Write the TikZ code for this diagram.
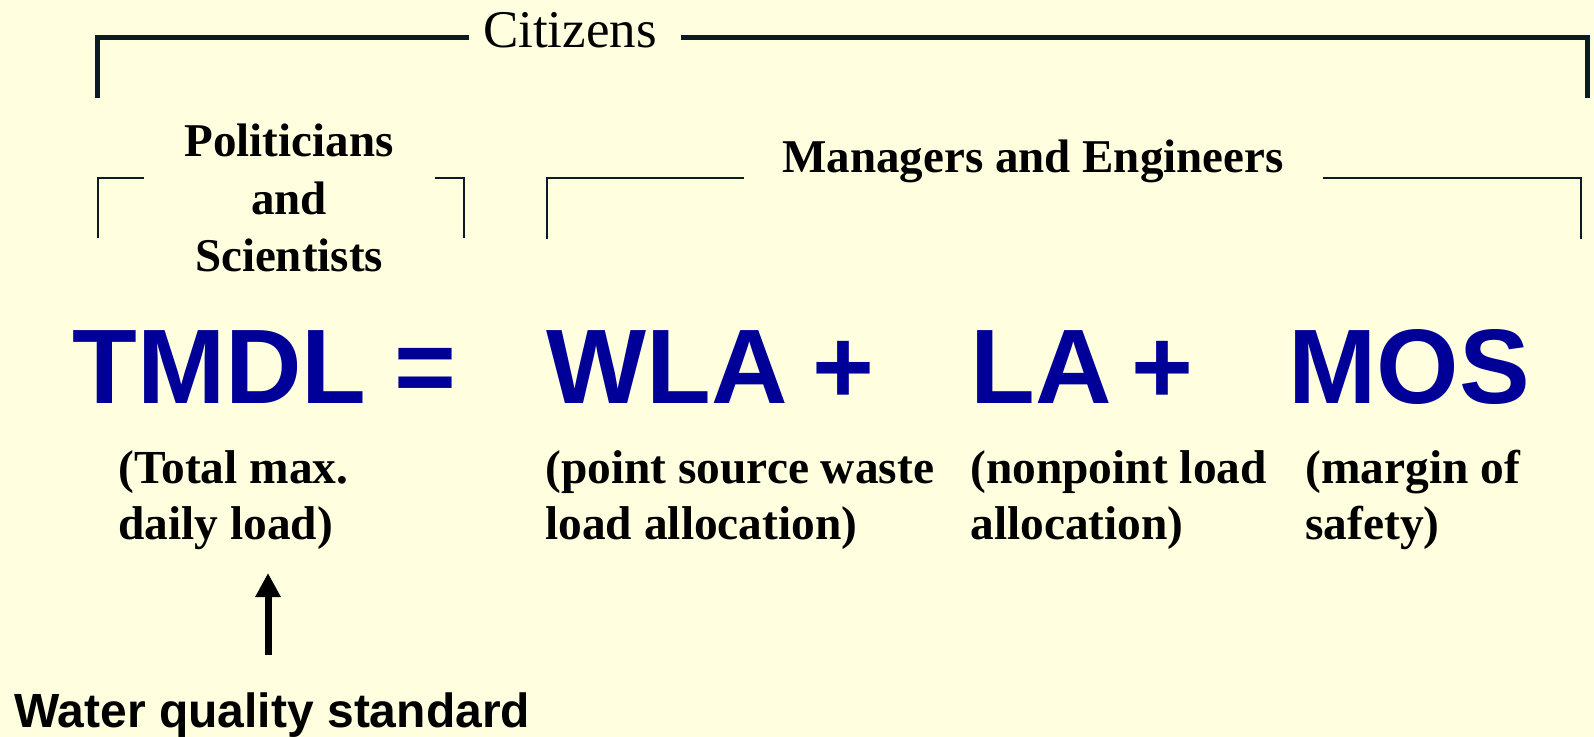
\documentclass[tikz,border=0pt]{standalone}
\usepackage{fontspec}
\setmainfont{Liberation Serif}
\newfontfamily\arialf{Liberation Sans}
\usetikzlibrary{arrows.meta}
\definecolor{bg}{RGB}{255,255,224}
\definecolor{eqblue}{RGB}{0,0,153}
\definecolor{rulecol}{RGB}{12,26,38}
\begin{document}
\begin{tikzpicture}[x=0.5pt,y=-0.5pt,
  lbl/.style={inner sep=0, anchor=base west, font=\bfseries\fontsize{23.7}{28}\selectfont},
  hdr/.style={inner sep=0, anchor=base, font=\bfseries\fontsize{23.5}{28}\selectfont},
  big/.style={inner sep=0, anchor=base west, text=eqblue, font=\arialf\bfseries\fontsize{53}{60}\selectfont},
  thickrule/.style={draw=rulecol, line width=2.5pt, line join=miter},
  thinrule/.style={draw=rulecol, line width=1pt, line join=miter}]
\fill[bg] (0,0) rectangle (1594,737);
\useasboundingbox (0,0) rectangle (1594,737);

% top bracket: Citizens
\node[inner sep=0, anchor=base, font=\fontsize{26.5}{30}\selectfont] (cit) at (570,48) {Citizens};
\coordinate (c1) at (97,98);
\coordinate (c2) at (469,38);
\coordinate (c3) at (681,38);
\coordinate (c4) at (1587,98);
\draw[thickrule] (c1) |- (c2);
\draw[thickrule] (c3) -| (c4);

% second-level brackets
\node[hdr] (pol1) at (289,157) {Politicians};
\node[hdr] (pol2) at (289,215) {and};
\node[hdr] (pol3) at (289,272) {Scientists};
\coordinate (p1) at (98,238);
\coordinate (p2) at (144,178);
\coordinate (p3) at (435,178);
\coordinate (p4) at (464,238);
\draw[thinrule] (p1) |- (p2);
\draw[thinrule] (p3) -| (p4);

\node[hdr] (mgr) at (1033,173) {Managers and Engineers};
\coordinate (m1) at (547,239);
\coordinate (m2) at (744,178);
\coordinate (m3) at (1323,178);
\coordinate (m4) at (1581,239);
\draw[thinrule] (m1) |- (m2);
\draw[thinrule] (m3) -| (m4);

% the equation
\node[big] (tmdl) at (72,403) {TMDL};
\node[big] (eq) at (394,403) {=};
\node[big] (wla) at (546,403) {WLA};
\node[big] (plus1) at (812,403) {+};
\node[big] (la) at (970,403) {LA};
\node[big] (plus2) at (1131,403) {+};
\node[big] (mos) at (1288,403) {MOS};

% term descriptions
\node[lbl] (t1) at (118,483) {(Total max.};
\node[lbl] (t2) at (118,539) {daily load)};
\node[lbl] (w1) at (545,483) {(point source waste};
\node[lbl] (w2) at (545,539) {load allocation)};
\node[lbl] (l1) at (970,483) {(nonpoint load};
\node[lbl] (l2) at (970,539) {allocation)};
\node[lbl] (s1) at (1305,483) {(margin of};
\node[lbl] (s2) at (1305,539) {safety)};

% water quality standard feeding the TMDL
\node[inner sep=0, anchor=base west, font=\arialf\bfseries\fontsize{24}{28}\selectfont] (wqs) at (14,727) {Water quality standard};
\coordinate (a0) at (268,655);
\coordinate (a1) at (268,573);
\draw[line width=3.5pt, -{Triangle[width=12pt,length=12pt]}] (a0) -- (a1);
\end{tikzpicture}
\end{document}
